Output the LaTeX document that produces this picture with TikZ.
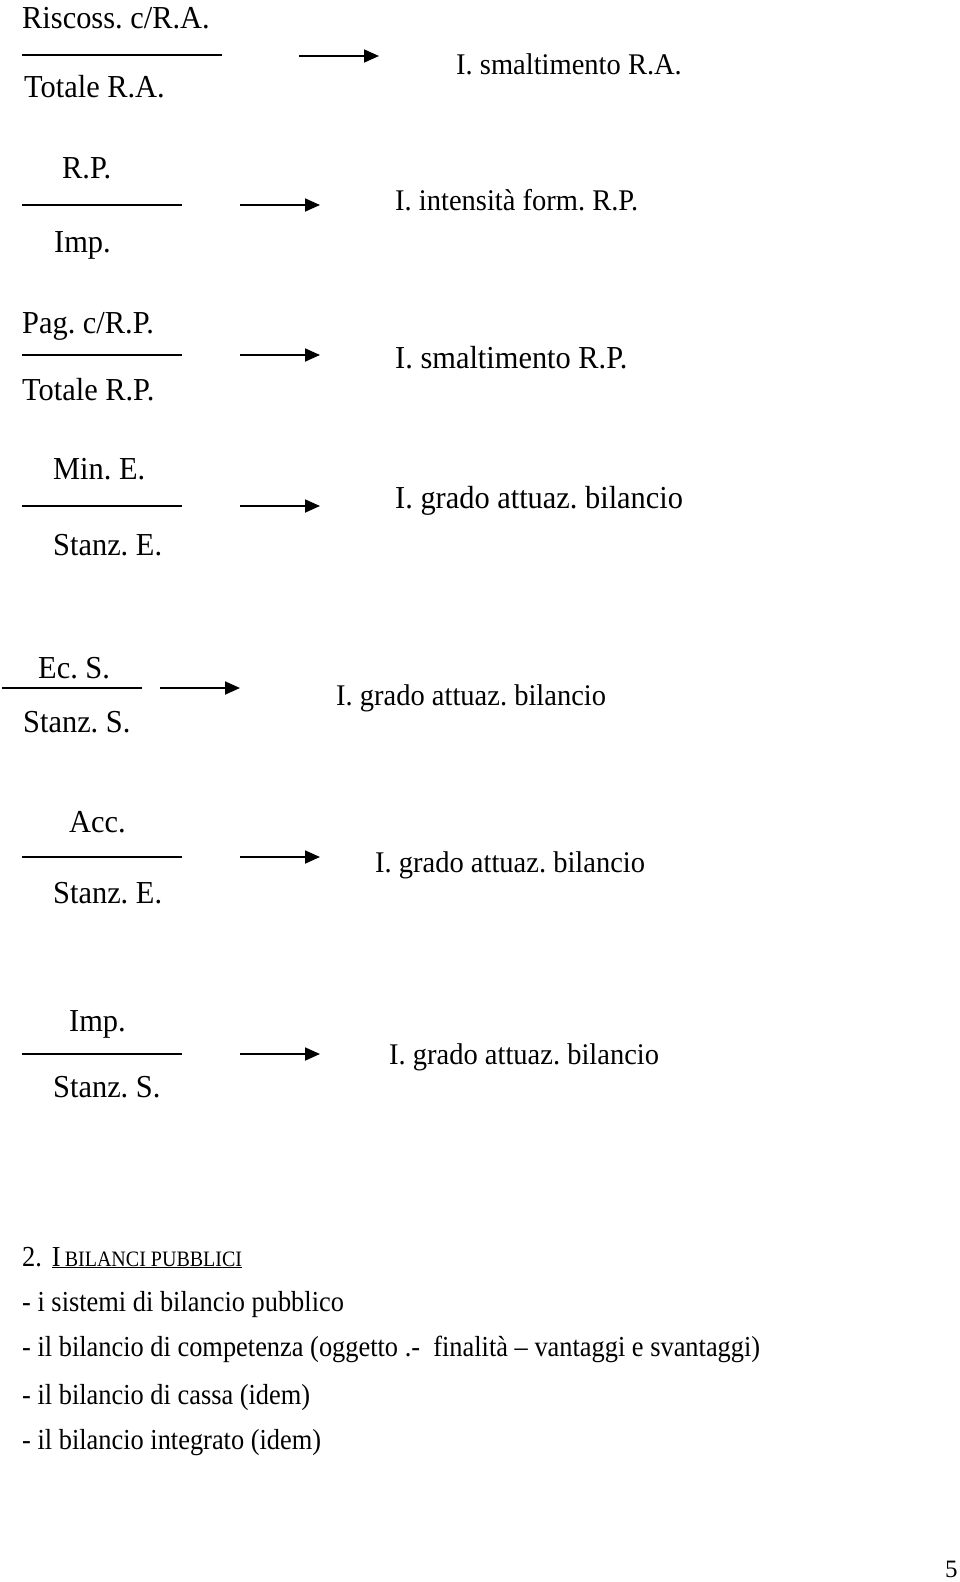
\documentclass[tikz,border=0pt]{standalone}
\usepackage{fontspec}
\setmainfont{Liberation Serif}
\newfontfamily\upfont[FakeStretch=0.95]{Liberation Serif}
\newfontfamily\condfont[FakeStretch=0.91]{Liberation Serif}
\usetikzlibrary{arrows.meta}
\frenchspacing
\begin{document}
\begin{tikzpicture}[x=1pt,y=-1pt,
  lbl/.style={anchor=base west,inner sep=0pt,font=\upfont\fontsize{32}{38}\selectfont},
  res/.style={anchor=base west,inner sep=0pt,font=\upfont\fontsize{30}{36}\selectfont},
  txt/.style={anchor=base west,inner sep=0pt,font=\condfont\fontsize{29}{35}\selectfont},
  fracline/.style={line width=1.8pt},
  arr/.style={line width=1.8pt,-{Triangle[length=15pt,width=13pt]}}]
\useasboundingbox[fill=white] (0,0) rectangle (960,1582);
% Row 1
\node[lbl] (n1) at (22,28) {Riscoss. c/R.A.};
\coordinate (f1a) at (22,55); \coordinate (f1b) at (222,55);
\draw[fracline] (f1a) -- (f1b);
\node[lbl] (d1) at (24,97) {Totale R.A.};
\coordinate (a1s) at (299,56); \coordinate (a1e) at (379,56);
\draw[arr] (a1s) -- (a1e);
\node[res] (r1) at (456,74) {I. smaltimento R.A.};
% Row 2
\node[lbl] (n2) at (62,178) {R.P.};
\coordinate (f2a) at (22,205); \coordinate (f2b) at (182,205);
\draw[fracline] (f2a) -- (f2b);
\node[lbl] (d2) at (54,252) {Imp.};
\coordinate (a2s) at (240,205); \coordinate (a2e) at (320,205);
\draw[arr] (a2s) -- (a2e);
\node[res] (r2) at (395,210) {I. intensità form. R.P.};
% Row 3
\node[lbl] (n3) at (22,333) {Pag. c/R.P.};
\coordinate (f3a) at (22,355); \coordinate (f3b) at (182,355);
\draw[fracline] (f3a) -- (f3b);
\node[lbl] (d3) at (22,400) {Totale R.P.};
\coordinate (a3s) at (240,355); \coordinate (a3e) at (320,355);
\draw[arr] (a3s) -- (a3e);
\node[lbl] (r3) at (395,368) {I. smaltimento R.P.};
% Row 4
\node[lbl] (n4) at (53,479) {Min. E.};
\coordinate (f4a) at (22,506); \coordinate (f4b) at (182,506);
\draw[fracline] (f4a) -- (f4b);
\node[lbl] (d4) at (53,555) {Stanz. E.};
\coordinate (a4s) at (240,506); \coordinate (a4e) at (320,506);
\draw[arr] (a4s) -- (a4e);
\node[lbl] (r4) at (395,508) {I. grado attuaz. bilancio};
% Row 5
\node[lbl] (n5) at (38,678) {Ec. S.};
\coordinate (f5a) at (2,688); \coordinate (f5b) at (142,688);
\draw[fracline] (f5a) -- (f5b);
\node[lbl] (d5) at (23,732) {Stanz. S.};
\coordinate (a5s) at (160,688); \coordinate (a5e) at (240,688);
\draw[arr] (a5s) -- (a5e);
\node[res] (r5) at (336,705) {I. grado attuaz. bilancio};
% Row 6
\node[lbl] (n6) at (69,832) {Acc.};
\coordinate (f6a) at (22,857); \coordinate (f6b) at (182,857);
\draw[fracline] (f6a) -- (f6b);
\node[lbl] (d6) at (53,903) {Stanz. E.};
\coordinate (a6s) at (240,857); \coordinate (a6e) at (320,857);
\draw[arr] (a6s) -- (a6e);
\node[res] (r6) at (375,872) {I. grado attuaz. bilancio};
% Row 7
\node[lbl] (n7) at (69,1031) {Imp.};
\coordinate (f7a) at (22,1054); \coordinate (f7b) at (182,1054);
\draw[fracline] (f7a) -- (f7b);
\node[lbl] (d7) at (53,1097) {Stanz. S.};
\coordinate (a7s) at (240,1054); \coordinate (a7e) at (320,1054);
\draw[arr] (a7s) -- (a7e);
\node[res] (r7) at (389,1064) {I. grado attuaz. bilancio};
% Bottom text
\node[txt] (t0) at (22,1266) {2.\hspace{10pt}\underline{I\hspace{4pt}{\fontsize{22}{26}\selectfont BILANCI PUBBLICI}}};
\node[txt] (t1) at (22,1311) {- i sistemi di bilancio pubblico};
\node[txt] (t2) at (22,1356) {- il bilancio di competenza (oggetto .-\ \ finalità – vantaggi e svantaggi)};
\node[txt] (t3) at (22,1404) {- il bilancio di cassa (idem)};
\node[txt] (t4) at (22,1449) {- il bilancio integrato (idem)};
\node[lbl,font=\fontsize{25}{30}\selectfont] (pg) at (945,1577) {5};
\end{tikzpicture}
\end{document}
